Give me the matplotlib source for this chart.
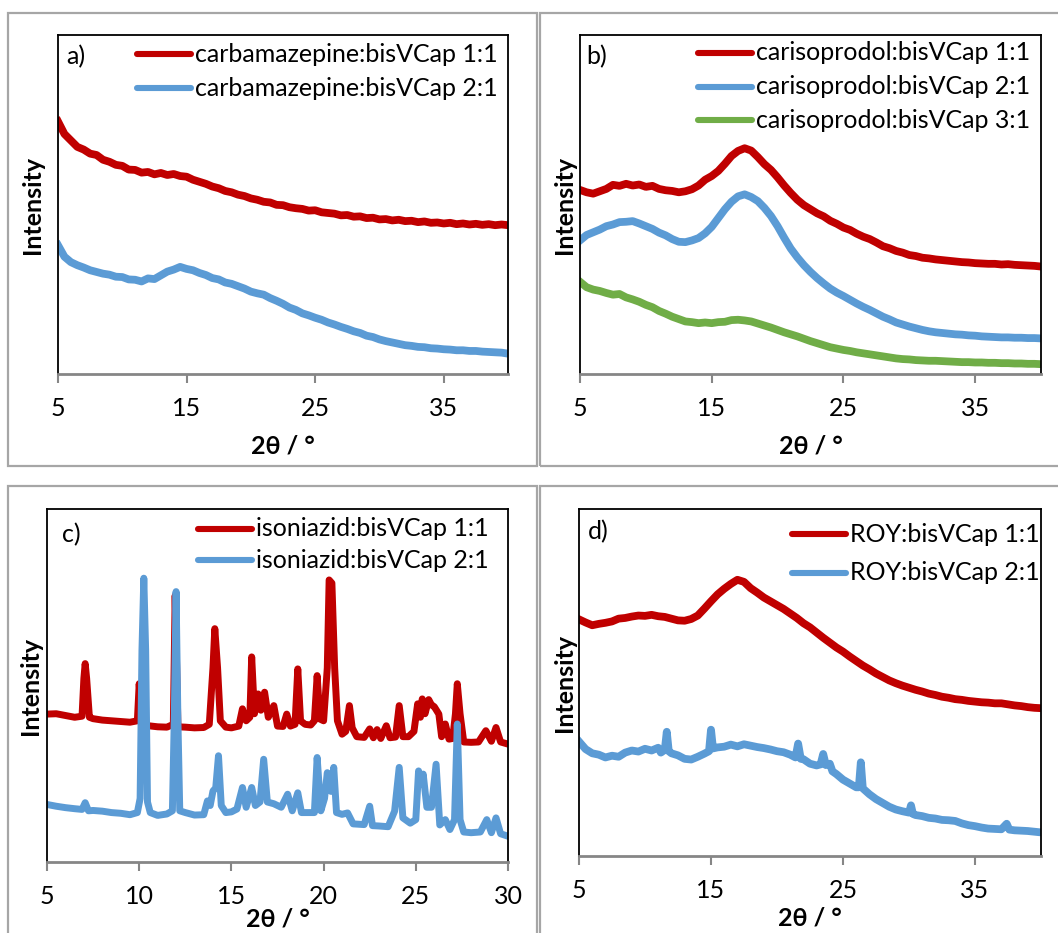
import numpy as np
import matplotlib
matplotlib.use("Agg")
import matplotlib.pyplot as plt
from matplotlib.lines import Line2D
from matplotlib.patches import Rectangle

plt.rcParams['font.family'] = ['Lato', 'DejaVu Sans']

# ---------------------------------------------------------------- data
RED = '#C00000'
BLUE = '#5B9BD5'
GREEN = '#70AD47'

# common 2-theta grid (0.5 deg step) for the amorphous-looking scans
grid_5_40 = np.linspace(5.0, 40.0, 71)

# a) carbamazepine:bisVCap
cbz_11 = [74.5, 70.8, 68.9, 67.0, 66.2, 65.0, 64.6, 63.2, 62.6, 61.7, 61.4, 60.3, 60.2, 59.4,
          59.6, 58.9, 59.3, 58.7, 59.0, 58.4, 58.2, 57.3, 56.7, 56.1, 55.3, 54.8, 54.0, 53.6,
          52.9, 52.5, 51.8, 51.4, 50.8, 50.6, 49.9, 49.8, 49.2, 48.9, 48.7, 48.2, 48.3, 47.7,
          47.5, 47.3, 46.8, 46.9, 46.4, 46.5, 46.0, 46.1, 45.6, 45.7, 45.3, 45.5, 45.1, 45.2,
          44.8, 45.0, 44.6, 44.7, 44.4, 44.6, 44.2, 44.4, 44.1, 44.3, 44.0, 44.2, 43.9, 44.1, 43.9]
cbz_21 = [38.0, 34.6, 33.0, 32.1, 31.4, 30.6, 30.1, 29.6, 29.3, 28.7, 28.6, 27.9, 27.8, 27.3,
          28.2, 28.0, 29.1, 30.2, 30.8, 31.6, 31.0, 30.6, 29.8, 29.2, 28.3, 27.9, 27.0, 26.6,
          25.9, 25.2, 24.3, 23.8, 23.4, 22.4, 21.6, 20.7, 19.6, 18.9, 17.9, 17.3, 16.6, 16.0,
          15.2, 14.6, 13.9, 13.3, 12.6, 12.1, 11.3, 10.9, 10.2, 9.7, 9.3, 8.9, 8.5, 8.3,
          8.0, 7.9, 7.6, 7.5, 7.3, 7.2, 7.0, 7.0, 6.8, 6.8, 6.6, 6.5, 6.4, 6.3, 6.0]

# b) carisoprodol:bisVCap
car_11 = [54.3, 53.6, 53.2, 53.9, 54.6, 55.8, 55.5, 56.1, 55.6, 55.9, 55.2, 55.5, 54.6, 54.2,
          54.0, 53.6, 53.9, 54.5, 55.6, 57.3, 58.4, 59.9, 62.0, 64.3, 65.8, 66.6, 65.9, 64.0,
          61.9, 60.2, 58.0, 55.6, 53.4, 51.4, 49.8, 48.6, 47.4, 46.5, 45.2, 44.3, 43.2, 42.5,
          41.4, 40.5, 39.8, 38.8, 37.7, 37.1, 36.3, 35.8, 35.1, 34.8, 34.3, 34.1, 33.8, 33.6,
          33.4, 33.2, 33.0, 32.9, 32.7, 32.6, 32.5, 32.5, 32.3, 32.4, 32.2, 32.1, 32.0, 31.9, 31.7]
car_21 = [39.4, 41.0, 41.8, 42.6, 43.6, 44.1, 44.8, 44.9, 45.1, 44.4, 43.6, 42.8, 41.7, 40.9,
          39.8, 39.0, 38.9, 39.4, 40.1, 41.5, 43.4, 46.0, 48.6, 50.8, 52.4, 53.0, 52.2, 51.0,
          49.0, 46.6, 43.6, 40.2, 37.0, 34.4, 32.1, 30.1, 28.3, 26.7, 25.2, 24.0, 23.0, 21.9,
          20.8, 19.8, 18.9, 17.9, 16.9, 16.1, 15.2, 14.6, 14.0, 13.5, 13.0, 12.6, 12.3, 12.1,
          11.9, 11.7, 11.6, 11.4, 11.3, 11.1, 11.0, 10.9, 10.8, 10.8, 10.7, 10.7, 10.6, 10.6, 10.5]
car_31 = [27.2, 25.6, 24.9, 24.5, 23.9, 23.4, 23.6, 22.6, 22.0, 21.3, 20.4, 19.7, 18.6, 17.8,
          16.9, 16.2, 15.5, 15.3, 15.0, 15.2, 15.0, 15.3, 15.4, 15.9, 16.0, 15.8, 15.5, 14.9,
          14.3, 13.7, 13.0, 12.3, 11.7, 11.1, 10.4, 9.7, 9.1, 8.5, 7.9, 7.5, 7.1, 6.8,
          6.4, 6.1, 5.8, 5.5, 5.2, 4.9, 4.6, 4.4, 4.3, 4.1, 4.0, 3.9, 3.9, 3.8,
          3.7, 3.6, 3.5, 3.5, 3.4, 3.4, 3.3, 3.3, 3.2, 3.2, 3.1, 3.1, 3.0, 3.0, 2.9]

# c) isoniazid:bisVCap (crystalline, sampled more finely around reflections)
inh_11_x = [5.0, 5.5, 6.0, 6.5, 6.9, 7.0, 7.07, 7.15, 7.3, 7.5, 8.0, 8.5, 9.0, 9.5, 9.9, 10.0,
            10.15, 10.5, 11.0, 11.5, 11.85, 11.95, 12.1, 12.5, 13.0, 13.5, 13.8, 14.0, 14.1,
            14.25, 14.4, 14.7, 15.0, 15.4, 15.6, 15.8, 16.0, 16.1, 16.25, 16.45, 16.6, 16.8,
            17.0, 17.3, 17.5, 17.8, 18.0, 18.2, 18.45, 18.6, 18.75, 19.0, 19.3, 19.5, 19.65,
            19.8, 20.0, 20.2, 20.3, 20.45, 20.6, 20.75, 21.0, 21.2, 21.4, 21.55, 21.8, 22.2,
            22.5, 22.7, 22.9, 23.1, 23.4, 23.6, 23.9, 24.1, 24.3, 24.6, 24.9, 25.1, 25.25,
            25.35, 25.5, 25.7, 25.85, 26.0, 26.25, 26.4, 26.6, 26.8, 27.0, 27.15, 27.25, 27.4,
            27.6, 28.0, 28.4, 28.8, 29.1, 29.35, 29.6, 30.0]
inh_11_y = [41.9, 42.0, 41.5, 41.0, 41.3, 52.0, 56.2, 52.0, 41.0, 40.6, 40.2, 40.0, 39.8, 39.6,
            40.0, 50.5, 39.0, 38.6, 38.3, 38.2, 39.0, 75.5, 38.3, 38.2, 38.0, 38.1, 39.0, 55.0,
            66.1, 55.0, 40.0, 38.2, 38.0, 38.5, 43.4, 40.0, 41.0, 58.1, 42.0, 47.6, 43.0, 48.1,
            41.0, 44.3, 38.5, 38.4, 41.9, 38.5, 39.0, 54.7, 40.0, 39.0, 38.8, 40.0, 52.8,
            40.5, 40.0, 55.0, 79.9, 79.0, 55.0, 40.0, 36.2, 37.0, 44.3, 38.0, 35.5, 35.3,
            37.7, 35.2, 37.5, 35.0, 38.6, 35.2, 35.4, 44.3, 35.5, 35.5, 37.0, 44.8, 41.0,
            46.2, 42.0, 46.0, 44.5, 44.0, 41.9, 35.5, 39.1, 34.8, 35.0, 42.0, 50.5, 42.0,
            34.0, 33.9, 34.0, 37.2, 34.2, 38.1, 34.0, 33.4]
inh_21_x = [5.0, 5.5, 6.0, 6.5, 6.9, 7.07, 7.25, 7.5, 8.0, 8.5, 9.0, 9.5, 9.9, 10.05, 10.15,
            10.25, 10.35, 10.45, 10.6, 11.0, 11.5, 11.8, 11.9, 12.0, 12.1, 12.2, 12.5, 13.0,
            13.5, 13.7, 13.85, 14.0, 14.15, 14.3, 14.45, 14.7, 15.0, 15.3, 15.6, 15.8, 16.1,
            16.3, 16.55, 16.75, 16.95, 17.3, 17.7, 18.05, 18.3, 18.6, 18.8, 19.2, 19.5, 19.65,
            19.85, 20.05, 20.2, 20.4, 20.55, 20.7, 21.0, 21.3, 21.6, 22.2, 22.5, 22.65, 23.0,
            23.5, 23.85, 24.1, 24.3, 24.7, 25.0, 25.15, 25.3, 25.4, 25.6, 25.85, 26.1, 26.3,
            26.6, 26.85, 27.1, 27.25, 27.4, 27.6, 28.0, 28.5, 28.85, 29.1, 29.35, 29.6, 30.0]
inh_21_y = [16.3, 15.8, 15.4, 15.1, 14.9, 16.8, 14.5, 14.6, 14.4, 14.0, 13.8, 13.4, 14.0, 18.0,
            60.0, 80.4, 60.0, 17.0, 14.0, 13.2, 13.6, 14.5, 40.0, 76.6, 40.0, 14.5, 14.0, 13.3,
            13.4, 17.3, 16.0, 20.1, 21.0, 30.1, 16.0, 14.0, 14.2, 15.0, 21.1, 15.5, 21.1,
            16.0, 17.0, 29.1, 17.0, 16.5, 15.5, 19.2, 14.5, 19.6, 14.0, 14.0, 14.0, 29.6,
            14.5, 18.0, 25.3, 20.0, 26.8, 14.0, 13.5, 13.9, 10.8, 10.6, 15.8, 10.3, 10.2,
            10.0, 14.4, 26.8, 12.5, 11.0, 12.0, 25.8, 22.0, 24.9, 15.5, 15.5, 27.7, 10.5,
            12.0, 9.2, 12.0, 39.1, 12.0, 8.5, 8.3, 8.5, 12.0, 8.3, 12.5, 8.0, 7.3]

# d) ROY:bisVCap
roy_11 = [68.2, 67.3, 66.5, 66.9, 67.2, 67.6, 68.4, 68.6, 69.0, 69.3, 69.2, 69.5, 69.1, 68.9,
          68.4, 67.9, 67.8, 68.3, 69.3, 71.3, 73.4, 75.4, 77.0, 78.4, 79.6, 79.0, 77.2, 75.9,
          74.5, 73.4, 72.3, 71.2, 69.9, 68.6, 67.1, 65.9, 64.4, 62.9, 61.5, 60.1, 58.9, 57.5,
          56.2, 54.9, 53.8, 52.6, 51.6, 50.6, 49.8, 49.1, 48.5, 47.9, 47.4, 46.8, 46.4, 45.9,
          45.6, 45.2, 45.0, 44.7, 44.5, 44.3, 44.2, 44.0, 44.0, 43.7, 43.4, 43.2, 42.9, 42.7, 42.6]
roy_21_x = [5.0, 5.5, 6.0, 6.5, 7.0, 7.5, 8.0, 8.5, 9.0, 9.5, 10.0, 10.5, 11.0, 11.2, 11.5,
            11.65, 11.8, 12.0, 12.5, 13.0, 13.5, 14.0, 14.5, 14.85, 15.0, 15.15, 15.5, 16.0,
            16.5, 17.0, 17.5, 18.0, 18.5, 19.0, 19.5, 20.0, 20.5, 21.0, 21.4, 21.6, 21.8, 22.0,
            22.5, 23.0, 23.3, 23.5, 23.7, 24.0, 24.2, 24.5, 25.0, 25.5, 26.0, 26.2, 26.35,
            26.5, 27.0, 27.5, 28.0, 28.5, 29.0, 29.5, 30.0, 30.15, 30.3, 30.5, 31.0, 31.5,
            32.0, 32.5, 33.0, 33.5, 34.0, 34.5, 35.0, 35.5, 36.0, 36.5, 37.0, 37.4, 37.6,
            38.0, 38.5, 39.0, 39.5, 40.0]
roy_21_y = [33.0, 30.8, 29.6, 29.2, 28.4, 28.9, 28.6, 29.8, 30.4, 30.1, 30.9, 30.4, 31.2, 29.8,
            30.6, 35.8, 30.2, 29.6, 29.0, 28.0, 27.8, 28.6, 29.5, 30.2, 36.4, 31.0, 31.3, 31.5,
            32.1, 31.6, 32.2, 31.8, 31.4, 31.1, 30.7, 30.2, 29.9, 29.2, 28.4, 32.4, 28.0, 27.9,
            26.6, 26.1, 26.4, 29.4, 26.2, 26.6, 24.4, 23.6, 22.0, 20.9, 19.8, 19.8, 27.0,
            19.5, 17.8, 16.4, 15.3, 14.2, 13.4, 12.9, 12.5, 14.6, 12.1, 11.8, 11.5, 11.0,
            10.8, 10.4, 10.3, 10.1, 9.4, 8.9, 8.6, 8.2, 7.9, 7.8, 7.7, 9.3, 7.6,
            7.4, 7.3, 7.2, 7.0, 6.8]

ticks_wide = [5, 15, 25, 35]
ticks_narrow = [5, 10, 15, 20, 25, 30]

# ---------------------------------------------------------------- layout
W, H = 1058, 933
fig = plt.figure(figsize=(W / 100, H / 100), dpi=100)
fig.patch.set_facecolor('white')

FS = 18


def fx(x):
    return x / W


def fy(y):
    return 1 - y / H


def panel_frame(l, t, r, b):
    fig.add_artist(Rectangle((fx(l), fy(b)), fx(r - l), (b - t) / H,
                             transform=fig.transFigure, fill=False,
                             edgecolor='#A6A6A6', linewidth=1.6))


def make_axes(l, t, r, b, xlim, ticks):
    ax = fig.add_axes([fx(l), fy(b), fx(r - l), (b - t) / H])
    ax.set_xlim(*xlim)
    ax.set_ylim(0, 100)
    ax.set_xticks(ticks)
    ax.set_yticks([])
    for s in ('left', 'top', 'right'):
        ax.spines[s].set_color('black')
        ax.spines[s].set_linewidth(1.3)
    ax.spines['bottom'].set_color('#868686')
    ax.spines['bottom'].set_linewidth(2.0)
    ax.tick_params(axis='x', direction='out', length=6.5, width=1.5,
                   color='#868686', labelsize=FS, pad=10)
    return ax


def legend(x1, x2, xt, rows, items):
    for y, (label, color) in zip(rows, items):
        fig.add_artist(Line2D([fx(x1), fx(x2)], [fy(y), fy(y)], transform=fig.transFigure,
                              color=color, linewidth=4.4, solid_capstyle='round'))
        fig.text(fx(xt), fy(y), label, fontsize=FS, ha='left', va='center')


def labels(ax_l, ax_r, ax_t, ax_b, ylab_x, xlab_y):
    fig.text(fx(ylab_x), fy((ax_t + ax_b) / 2), 'Intensity', rotation=90, fontsize=FS,
             fontweight='bold', ha='center', va='center')
    fig.text(fx((ax_l + ax_r) / 2), fy(xlab_y), '2θ / °', fontsize=FS,
             fontweight='bold', ha='center', va='center')


# panel frames
panel_frame(8, 13, 537, 466)
panel_frame(540, 13, 1070, 466)
panel_frame(8, 486, 537, 950)
panel_frame(540, 486, 1070, 950)

LW = 5.6

# a)
ax = make_axes(58, 35, 508, 374, (5, 40), ticks_wide)
ax.plot(grid_5_40, cbz_11, color=RED, lw=LW, solid_joinstyle='round')
ax.plot(grid_5_40, cbz_21, color=BLUE, lw=LW, solid_joinstyle='round')
fig.text(fx(66), fy(57), 'a)', fontsize=FS, ha='left', va='center')
legend(137, 191, 195, [54, 88], [('carbamazepine:bisVCap 1:1', RED),
                                  ('carbamazepine:bisVCap 2:1', BLUE)])
labels(58, 508, 35, 374, 32, 446)

# b)
ax = make_axes(580, 35, 1041, 374, (5, 40), ticks_wide)
ax.plot(grid_5_40, car_11, color=RED, lw=LW, solid_joinstyle='round')
ax.plot(grid_5_40, car_21, color=BLUE, lw=LW, solid_joinstyle='round')
ax.plot(grid_5_40, car_31, color=GREEN, lw=LW, solid_joinstyle='round')
fig.text(fx(586), fy(57), 'b)', fontsize=FS, ha='left', va='center')
legend(698, 752, 756, [53, 87, 120], [('carisoprodol:bisVCap 1:1', RED),
                                       ('carisoprodol:bisVCap 2:1', BLUE),
                                       ('carisoprodol:bisVCap 3:1', GREEN)])
labels(580, 1041, 35, 374, 564, 446)

# c)
ax = make_axes(47, 509, 508, 862, (5, 30), ticks_narrow)
ax.plot(inh_11_x, inh_11_y, color=RED, lw=5.0, solid_joinstyle='round')
ax.plot(inh_21_x, inh_21_y, color=BLUE, lw=5.0, solid_joinstyle='round')
fig.text(fx(62), fy(535), 'c)', fontsize=FS, ha='left', va='center')
legend(198, 252, 256, [529, 560], [('isoniazid:bisVCap 1:1', RED),
                                    ('isoniazid:bisVCap 2:1', BLUE)])
labels(47, 508, 509, 862, 30, 919)

# d)
ax = make_axes(579, 509, 1041, 856, (5, 40), ticks_wide)
ax.plot(grid_5_40, roy_11, color=RED, lw=LW, solid_joinstyle='round')
ax.plot(roy_21_x, roy_21_y, color=BLUE, lw=LW, solid_joinstyle='round')
fig.text(fx(588), fy(532), 'd)', fontsize=FS, ha='left', va='center')
legend(792, 846, 850, [534, 573], [('ROY:bisVCap 1:1', RED),
                                    ('ROY:bisVCap 2:1', BLUE)])
labels(579, 1041, 509, 856, 564, 918)

fig.savefig('out.png', dpi=100, facecolor='white')
